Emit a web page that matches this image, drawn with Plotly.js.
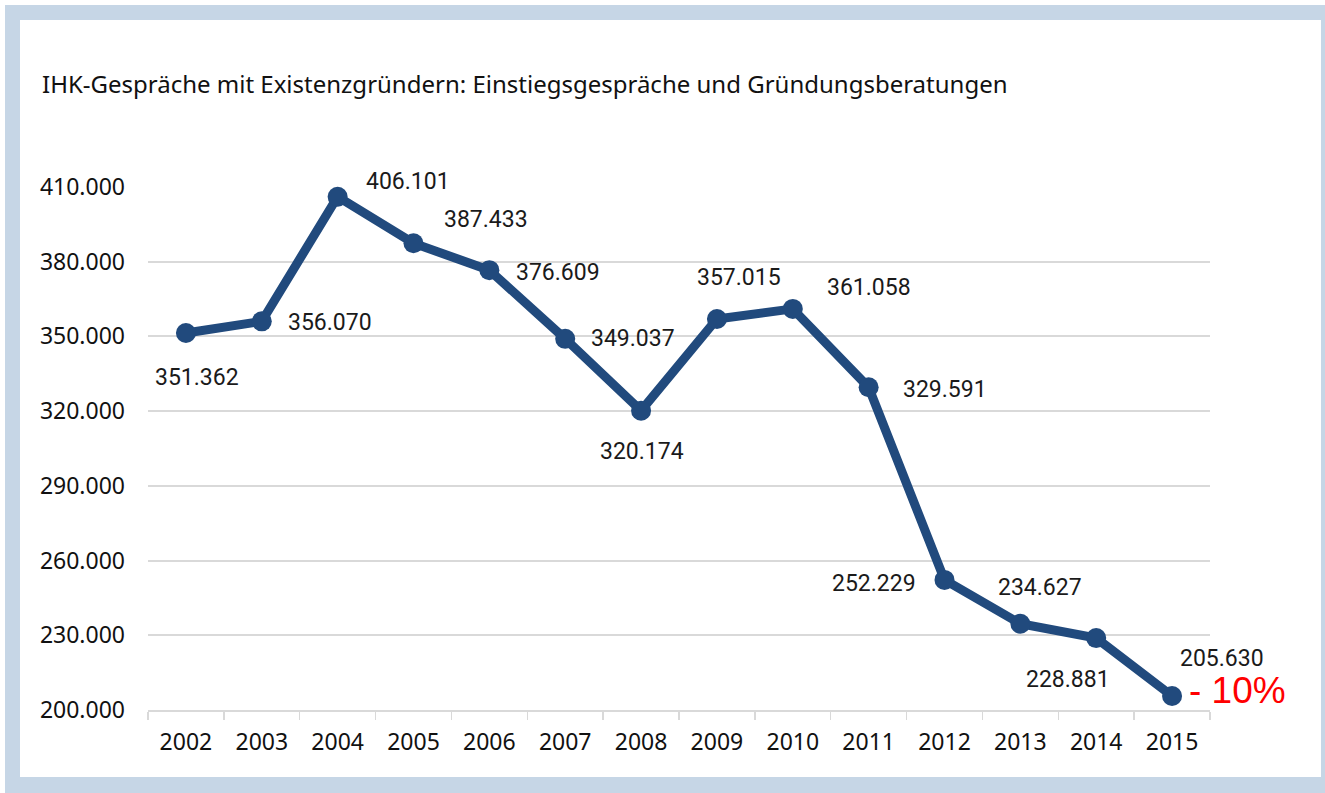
<!DOCTYPE html>
<html>
<head>
<meta charset="utf-8">
<script src="https://cdn.plot.ly/plotly-3.0.1.min.js"></script>
<style>
  html, body { margin: 0; padding: 0; background: #ffffff; width: 1325px; height: 793px; overflow: hidden; }
  #outer { position: absolute; left: 5px; top: 5px; width: 1320px; height: 788px; background: #c6d6e6; }
  #inner { position: absolute; left: 20px; top: 20px; width: 1301px; height: 757px; background: #ffffff; }
  #chart { position: absolute; left: 0; top: 0; width: 1325px; height: 793px; }
</style>
</head>
<body>
<div id="outer"></div>
<div id="inner"></div>
<div id="chart"></div>
<script>
// ---- data ----
const years = ["2002","2003","2004","2005","2006","2007","2008","2009","2010","2011","2012","2013","2014","2015"];
const gespraeche = [351362, 356070, 406101, 387433, 376609, 349037, 320174, 357015, 361058, 329591, 252229, 234627, 228881, 205630];
const yTicks = [200000, 230000, 260000, 290000, 320000, 350000, 380000, 410000];
const titleText = "IHK-Gespräche mit Existenzgründern: Einstiegsgespräche und Gründungsberatungen";
const changeLabel = "- 10%";

// ---- label offsets (pixels, style only) ----
const labelShiftX = [11, 68, 70, 72, 69, 68, 1, 22, 76, 76, -71, 20, -28, 50];
const labelShiftY = [-44, -1, 15, 24, -2, 0, -41, 41, 21, -2, -4, 36, -41, 37];

function fmt(v) {
  return String(v).replace(/\B(?=(\d{3})+(?!\d))/g, ".");
}

const lineColor = "#214a7d";

const trace = {
  type: "scatter",
  mode: "lines+markers",
  x: years,
  y: gespraeche,
  line: { color: lineColor, width: 9 },
  marker: { color: lineColor, size: 20 },
  hoverinfo: "skip",
  cliponaxis: false
};

// annotations on a category axis are placed by category index
const annotations = years.map((yr, i) => ({
  x: i,
  y: gespraeche[i],
  xref: "x",
  yref: "y",
  text: fmt(gespraeche[i]),
  showarrow: false,
  xanchor: "center",
  yanchor: "middle",
  xshift: labelShiftX[i],
  yshift: labelShiftY[i],
  font: { family: "Roboto, sans-serif", size: 23, color: "#1a1a1a" }
}));

const last = years.length - 1;
annotations.push({
  x: last,
  y: gespraeche[last],
  xref: "x",
  yref: "y",
  text: changeLabel,
  showarrow: false,
  xanchor: "center",
  yanchor: "middle",
  xshift: 65,
  yshift: 5,
  font: { family: "Liberation Sans, Arial, sans-serif", size: 37, color: "#ff0000" }
});

const layout = {
  width: 1325,
  height: 793,
  margin: { l: 148, r: 115, t: 187, b: 83, pad: 0 },
  paper_bgcolor: "rgba(0,0,0,0)",
  plot_bgcolor: "rgba(0,0,0,0)",
  showlegend: false,
  hovermode: false,
  separators: ",.",
  title: {
    text: titleText,
    x: 42 / 1325,
    xref: "container",
    xanchor: "left",
    y: 1 - 85 / 793,
    yref: "container",
    yanchor: "middle",
    font: { family: "Noto Sans, sans-serif", size: 24, color: "#111111" }
  },
  xaxis: {
    type: "category",
    categoryarray: years,
    range: [-0.5, years.length - 0.5],
    autorange: false,
    tickson: "boundaries",
    ticks: "outside",
    ticklen: 8,
    tickwidth: 1.5,
    tickcolor: "#d9d9d9",
    showline: true,
    linecolor: "#d9d9d9",
    linewidth: 2,
    showgrid: false,
    zeroline: false,
    tickangle: 0,
    ticklabelstandoff: 10,
    tickfont: { family: "Noto Sans, sans-serif", size: 23, color: "#111111" },
    fixedrange: true
  },
  yaxis: {
    range: [200000, 410000],
    autorange: false,
    tickvals: yTicks,
    tickformat: ",d",
    showgrid: true,
    gridcolor: "#d9d9d9",
    gridwidth: 2,
    zeroline: false,
    showline: false,
    ticks: "",
    ticklabelstandoff: 22,
    tickfont: { family: "Noto Sans, sans-serif", size: 23, color: "#111111" },
    fixedrange: true
  },
  annotations: annotations
};

Plotly.newPlot("chart", [trace], layout, { staticPlot: true, displayModeBar: false });
</script>
</body>
</html>
